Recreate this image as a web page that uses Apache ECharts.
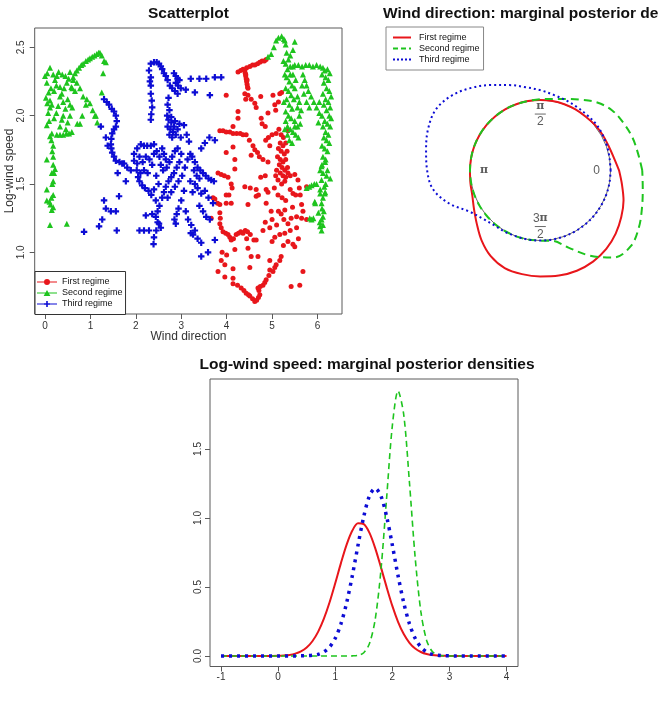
<!DOCTYPE html>
<html><head><meta charset="utf-8">
<script src="https://cdn.jsdelivr.net/npm/echarts@6/dist/echarts.min.js"></script>
<style>html,body{margin:0;padding:0;background:#fff}#c{width:659px;height:712px}</style>
</head><body><div id="c"></div>
<script>
// ---------------- DATA ----------------
const regimeNames = ['First regime', 'Second regime', 'Third regime'];

// Scatterplot: [wind direction, log-wind speed]
const redPts = [
[4.25,2.32],[4.31,2.33],[4.36,2.34],[4.44,2.35],[4.51,2.36],[4.57,2.37],[4.62,2.37],[4.68,2.38],[4.73,2.39],[4.78,2.40],[4.83,2.40],[4.87,2.41],
[4.40,2.33],[4.41,2.31],[4.42,2.29],[4.43,2.27],[4.44,2.25],[4.45,2.23],[4.46,2.21],[4.47,2.20],[4.42,2.30],[4.45,2.26],
[3.99,2.15],[4.40,2.16],[4.47,2.15],[4.42,2.12],[4.54,2.12],[4.75,2.14],[5.02,2.15],[5.17,2.16],[5.21,2.17],[4.62,2.09],[4.65,2.06],[5.06,2.08],[4.91,2.02],[4.76,1.98],[4.78,1.94],[4.25,2.03],[4.25,1.98],[4.14,1.92],[5.08,2.04],[5.14,2.10],
[3.85,1.89],[3.92,1.89],[3.99,1.88],[4.07,1.88],[4.14,1.87],[4.22,1.87],[4.30,1.87],[4.36,1.86],[4.43,1.86],
[3.99,1.73],[4.14,1.77],[4.18,1.68],[4.18,1.61],[4.50,1.82],[4.58,1.78],[4.62,1.75],[4.68,1.73],[4.54,1.71],[4.80,1.68],[4.91,1.66],[4.72,1.70],[4.86,1.82],[4.92,1.84],[5.00,1.86],[5.09,1.87],[4.95,1.78],[5.35,1.89],[4.85,1.92],
[5.15,1.90],[5.20,1.86],[5.25,1.84],[5.18,1.80],[5.24,1.78],[5.30,1.80],[5.14,1.76],[5.20,1.74],[5.27,1.72],[5.33,1.74],[5.12,1.70],[5.18,1.68],[5.24,1.66],[5.30,1.68],[5.16,1.64],[5.22,1.62],[5.28,1.60],[5.34,1.62],[5.10,1.60],[5.18,1.58],[5.24,1.56],[5.30,1.55],[5.13,1.53],[5.28,1.52],[5.35,1.58],[5.21,1.50],[5.40,1.56],[5.08,1.56],
[3.81,1.58],[3.88,1.57],[3.95,1.56],[4.03,1.55],[4.10,1.50],[4.12,1.47],[3.70,1.40],[3.74,1.39],[3.80,1.36],[3.85,1.35],[3.66,1.25],[3.99,1.42],[4.05,1.42],[3.99,1.36],[4.10,1.36],[4.40,1.48],[4.52,1.47],[4.65,1.46],[4.47,1.35],[4.65,1.41],[4.70,1.42],[4.75,1.55],[4.85,1.56],[4.87,1.46],[4.91,1.44],
[3.85,1.29],[3.86,1.25],[3.85,1.21],[3.88,1.18],[3.92,1.15],[3.98,1.14],[4.03,1.13],[4.07,1.11],[4.10,1.09],[4.15,1.10],[4.21,1.13],[4.26,1.14],[4.31,1.15],[4.36,1.14],[4.41,1.16],[4.46,1.15],[4.52,1.13],[4.44,1.10],[4.18,1.02],[4.47,1.03],[4.60,1.09],[4.65,1.09],[4.69,0.97],[4.95,0.94],[4.95,0.87],[4.80,1.16],[4.85,1.22],
[3.88,0.94],[3.96,0.91],[4.14,0.88],[3.81,0.86],[3.96,0.82],[4.14,0.81],[4.14,0.77],[4.24,0.76],[4.32,0.74],[4.38,0.72],[4.43,0.70],[4.48,0.69],[4.51,0.68],[4.57,0.66],[4.62,0.64],[4.66,0.65],[4.70,0.67],[4.73,0.69],[4.71,0.72],[4.69,0.74],[4.74,0.75],[4.80,0.76],[4.84,0.78],[4.87,0.80],[4.93,0.83],[5.02,0.86],[5.06,0.89],[5.09,0.91],[5.17,0.94],[5.20,0.97],[4.51,0.89],[4.54,0.97],[4.00,0.98],[3.90,1.00],
[4.87,1.36],[4.98,1.30],[5.00,1.24],[4.95,1.18],[5.06,1.11],[5.00,1.08],[5.17,1.13],[5.28,1.14],[5.35,1.08],[5.50,1.04],[5.46,1.06],[5.54,1.18],[5.35,1.21],[5.42,1.25],[5.54,1.26],[5.65,1.25],[5.76,1.24],[5.68,1.30],[5.65,1.35],[5.76,1.48],[5.46,1.43],[5.28,1.31],[5.20,1.28],[5.26,1.24],[5.30,1.38],[5.10,1.20],[5.14,1.30],[5.13,1.42],[5.05,1.47],[5.50,1.57],[5.57,1.53],[5.60,1.47],[5.52,1.42],[5.40,1.46],[5.22,1.40],[5.45,1.33],[5.40,1.16],[5.25,1.05],[5.42,0.75],[5.61,0.76],[5.68,0.86],[5.58,1.10],[5.62,1.42]
];
const greenPts = [
[0.11,1.20],[0.48,1.21],[0.15,1.31],[0.18,1.33],[0.12,1.35],[0.04,1.38],[0.10,1.37],[0.14,1.40],[0.18,1.42],[0.04,1.46],[0.16,1.50],[0.18,1.52],[0.20,1.58],[0.22,1.61],[0.18,1.64],[0.15,1.58],[0.04,1.68],[0.18,1.70],[0.16,1.74],[0.18,1.78],[0.14,1.82],[0.11,1.85],[0.15,1.87],[0.26,1.86],[0.33,1.86],[0.40,1.86],[0.47,1.87],[0.53,1.87],[0.59,1.88],
[0.04,1.93],[0.09,1.96],[0.07,2.02],[0.11,2.06],[0.05,2.09],[0.11,2.11],[0.15,2.08],[0.02,2.13],[0.08,2.17],[0.13,2.20],[0.04,2.24],[0.00,2.29],[0.05,2.31],[0.11,2.35],[0.18,2.30],[0.22,2.26],[0.25,2.22],[0.20,2.18],[0.29,2.07],[0.33,2.14],[0.33,2.21],[0.30,2.32],[0.26,2.29],[0.38,2.30],[0.45,2.29],[0.48,2.24],[0.42,2.20],[0.37,2.16],[0.40,2.10],[0.45,2.05],[0.37,1.97],[0.33,1.92],[0.40,2.00],[0.50,2.12],[0.55,2.32],[0.52,2.27],[0.58,2.21],[0.62,2.26],[0.66,2.18],[0.70,2.24],[0.77,2.20],[0.84,2.14],[0.92,2.12],[0.99,2.09],[1.05,2.04],[1.10,2.00],[0.77,1.94],[0.71,1.94],[0.82,2.00],[0.60,2.06],[0.55,2.00],[0.50,1.95],[0.20,1.98],[0.25,2.02],[0.60,2.20],[0.55,2.08],[0.46,1.90],[0.90,2.08],
[0.62,2.28],[0.66,2.31],[0.70,2.33],[0.75,2.35],[0.80,2.37],[0.84,2.38],[0.90,2.40],[0.95,2.41],[0.99,2.42],[1.04,2.43],[1.09,2.44],[1.14,2.45],[1.18,2.46],[1.21,2.46],[1.25,2.44],
[1.30,2.40],[1.34,2.39],[1.28,2.31],[1.25,2.17],[1.12,2.00],[1.15,1.95],
[4.91,2.43],[4.98,2.45],[5.04,2.50],[5.09,2.55],[5.14,2.57],[5.21,2.58],[5.26,2.56],[5.28,2.55],[5.30,2.52],[5.50,2.54],[5.46,2.48],[5.40,2.44],
[5.32,2.46],[5.36,2.41],[5.30,2.38],[5.34,2.34],[5.40,2.30],[5.32,2.28],[5.38,2.25],[5.44,2.22],[5.30,2.20],[5.36,2.18],[5.42,2.15],[5.48,2.12],[5.32,2.12],[5.38,2.08],[5.44,2.05],[5.30,2.03],[5.36,2.00],[5.42,1.98],[5.50,1.96],[5.30,1.96],[5.34,1.92],[5.40,1.90],[5.46,1.88],[5.52,1.86],[5.34,1.86],[5.38,1.82],[5.44,1.80],[5.56,1.92],[5.60,2.00],[5.56,2.06],[5.50,2.20],[5.46,2.30],[5.52,2.26],[5.56,2.14],[5.60,2.10],[5.64,2.04],[5.58,1.84],[5.28,2.30],[5.26,2.10],[5.28,1.90],[5.25,2.40],[5.46,2.36],[5.40,2.36],[5.50,1.92],[5.62,1.94],
[5.50,2.37],[5.58,2.37],[5.66,2.36],[5.74,2.37],[5.82,2.37],[5.90,2.36],[5.98,2.37],[6.06,2.36],[6.12,2.35],[6.16,2.33],[6.22,2.34],[6.27,2.31],
[5.68,2.30],[5.72,2.26],[5.76,2.22],[5.80,2.18],[5.86,2.14],[5.92,2.10],[5.98,2.06],[6.04,2.02],[5.70,2.16],[5.76,2.10],[5.82,2.06],[5.66,2.22],
[6.10,2.30],[6.18,2.28],[6.24,2.26],[6.14,2.24],[6.20,2.20],[6.26,2.18],[6.12,2.16],[6.18,2.12],[6.24,2.10],[6.28,2.06],[6.14,2.08],[6.20,2.04],[6.26,2.00],[6.10,2.00],[6.16,1.96],[6.22,1.94],[6.28,1.92],[6.12,1.92],[6.18,1.88],[6.24,1.86],[6.14,1.84],[6.20,1.82],[6.26,1.80],[6.10,1.78],[6.16,1.76],[6.22,1.74],[6.12,1.70],[6.18,1.68],[6.10,1.64],[6.17,1.66],[6.09,1.63],[6.06,1.60],[6.12,1.58],[6.20,1.56],[6.28,1.54],[6.22,1.60],[6.30,2.14],[6.30,1.98],[6.02,1.95],[6.04,2.10],
[5.87,1.49],[5.93,1.50],[5.98,1.50],[6.09,1.53],[6.06,1.46],[6.06,1.43],[6.12,1.40],[6.16,1.43],[6.17,1.44],[5.94,1.37],[5.95,1.36],[6.09,1.36],[6.10,1.32],[6.02,1.29],[6.12,1.26],[6.09,1.24],[6.05,1.22],[5.91,1.25],[5.83,1.25],[5.87,1.24],[6.06,1.19],[6.09,1.16],[6.12,1.20],[6.14,1.30],[6.15,1.48],[6.18,1.50],[5.76,1.47],[5.82,1.48]
];
const bluePts = [
[2.29,2.33],[2.33,2.38],[2.40,2.39],[2.46,2.39],[2.51,2.38],[2.55,2.36],[2.58,2.34],[2.62,2.31],[2.66,2.29],[2.70,2.26],[2.33,2.28],[2.33,2.22],[2.33,2.16],[2.35,2.11],[2.36,2.06],[2.34,2.01],[2.33,1.97],[2.31,2.25],
[2.84,2.31],[2.88,2.29],[2.92,2.27],[2.96,2.26],[2.88,2.24],[2.93,2.22],[2.99,2.20],[2.86,2.18],[2.92,2.16],[2.80,2.20],[2.75,2.22],[3.10,2.19],[3.21,2.27],
[3.40,2.27],[3.55,2.27],[3.74,2.28],[3.88,2.28],[3.30,2.17],[3.63,2.15],
[2.72,2.13],[2.70,2.08],[2.74,2.04],[2.69,2.00],[2.72,1.97],[2.78,1.95],[2.70,1.92],[2.76,1.90],[2.82,1.88],[2.74,1.86],[2.80,1.84],[2.88,1.86],[2.92,1.90],[2.96,1.94],[2.86,1.96],[2.99,1.84],[3.06,1.93],[3.12,1.86],[3.17,1.81],[2.84,1.92],[2.78,1.99],
[1.30,2.12],[1.36,2.10],[1.41,2.08],[1.47,2.05],[1.52,2.03],[1.56,2.00],[1.58,1.96],[1.56,1.92],[1.52,1.90],[1.48,1.87],[1.46,1.83],[1.45,1.79],[1.46,1.76],[1.48,1.73],[1.52,1.70],[1.56,1.67],[1.64,1.66],[1.70,1.65],[1.74,1.65],[1.81,1.62],[1.89,1.60],[1.23,1.92],[1.34,1.84],[1.38,1.78],[1.60,1.58],
[1.96,1.72],[2.03,1.76],[2.11,1.79],[2.18,1.78],[2.25,1.78],[2.33,1.78],[2.40,1.79],[1.96,1.67],[2.03,1.65],[2.08,1.70],[2.15,1.66],[2.22,1.70],[2.30,1.68],[2.36,1.64],[2.02,1.60],[2.10,1.58],[2.18,1.60],[2.26,1.58],[2.08,1.52],[2.14,1.49],[2.20,1.47],[2.05,1.55],[2.40,1.72],
[2.46,1.74],[2.52,1.70],[2.58,1.76],[2.62,1.72],[2.66,1.68],[2.55,1.64],[2.60,1.60],[2.68,1.62],[2.74,1.66],[2.80,1.70],[2.86,1.74],[2.92,1.76],[3.00,1.72],[2.96,1.66],[2.90,1.62],[2.84,1.58],[2.78,1.55],[2.72,1.52],[2.66,1.48],[2.62,1.44],[2.58,1.40],[2.50,1.50],[2.45,1.56],[2.40,1.46],[2.34,1.42],[2.28,1.45],[2.44,1.38],[2.52,1.34],[2.48,1.30],[2.70,1.40],[2.78,1.44],[2.86,1.48],[2.94,1.52],[3.02,1.56],[3.08,1.62],[3.14,1.68],[3.20,1.72],[3.06,1.45],[3.00,1.38],[2.94,1.32],[2.90,1.28],[2.85,1.24],
[3.24,1.70],[3.30,1.66],[3.36,1.62],[3.42,1.60],[3.48,1.58],[3.54,1.56],[3.60,1.54],[3.66,1.53],[3.72,1.52],[3.28,1.60],[3.34,1.56],[3.40,1.54],[3.30,1.50],[3.36,1.47],[3.44,1.43],[3.52,1.45],[3.60,1.40],[3.70,1.36],[3.25,1.44],[3.20,1.52],[3.44,1.76],[3.52,1.80],[3.62,1.84],[3.74,1.82],
[3.55,1.26],[3.63,1.24],[3.48,1.30],[3.40,1.34],[3.26,1.13],[3.30,1.16],[3.22,1.20],[3.21,1.14],[3.36,1.10],[3.44,1.07],[3.59,1.00],[3.44,0.97],[3.74,1.09],[3.15,1.24],[3.10,1.30],
[1.30,1.38],[1.34,1.32],[1.45,1.30],[1.56,1.30],[1.63,1.41],[1.26,1.24],[1.19,1.19],[0.86,1.15],[1.58,1.16],[1.78,1.52],
[2.08,1.16],[2.18,1.16],[2.29,1.16],[2.40,1.11],[2.39,1.06],[2.55,1.18],[2.51,1.21],[2.44,1.26],[2.36,1.28],[2.22,1.27],[2.45,1.16],[2.48,1.22],[2.88,1.21]
];
const scatterXTicks = [0, 1, 2, 3, 4, 5, 6];
const scatterYTicks = [1.0, 1.5, 2.0, 2.5];

// Circular plot: angle (degrees), density added to unit circle
const circTheta = [0,10,20,30,40,50,60,70,80,90,100,110,120,130,140,150,160,170,180,190,200,210,220,230,240,250,260,270,280,290,300,310,320,330,340,350,360];
const circRed   = [0.12,0.06,0.03,0.02,0.01,0,0,0,0,0,0,0,0,0,0,0,0,0,0,0.01,0.03,0.09,0.18,0.30,0.41,0.48,0.50,0.51,0.52,0.52,0.50,0.46,0.40,0.33,0.26,0.18,0.12];
const circGreen = [0.45,0.41,0.39,0.36,0.33,0.26,0.16,0.08,0.03,0.01,0,0,0,0,0,0,0,0,0,0,0,0,0,0,0,0,0,0,0.02,0.17,0.40,0.62,0.68,0.62,0.54,0.48,0.45];
const circBlue  = [0,0,0.01,0.02,0.03,0.03,0.04,0.06,0.09,0.14,0.20,0.29,0.40,0.53,0.65,0.72,0.70,0.65,0.61,0.55,0.38,0.17,0.07,0.02,0.01,0,0,0,0,0,0,0,0,0,0,0,0];
const circLabelAngles = [0, 90, 180, 270];
const circLabelTexts = ['0', 'π/2', 'π', '3π/2'];

// Log-wind speed densities
const speedX = [-1.0,-0.9,-0.8,-0.7,-0.6,-0.5,-0.4,-0.3,-0.2,-0.1,0.0,0.1,0.2,0.3,0.4,0.5,0.6,0.7,0.8,0.9,1.0,1.1,1.2,1.3,1.4,1.5,1.6,1.7,1.8,1.9,2.0,2.1,2.2,2.3,2.4,2.5,2.6,2.7,2.8,2.9,3.0,3.1,3.2,3.3,3.4,3.5,3.6,3.7,3.8,3.9,4.0];
const speedRed   = [0,0,0,0,0,0,0,0,0,0,0.001,0.004,0.008,0.017,0.033,0.061,0.107,0.175,0.269,0.388,0.527,0.673,0.807,0.909,0.961,0.955,0.892,0.782,0.644,0.499,0.363,0.248,0.159,0.096,0.054,0.029,0.014,0.007,0.003,0.001,0,0,0,0,0,0,0,0,0,0,0];
const speedGreen = [0,0,0,0,0,0,0,0,0,0,0,0,0,0,0,0,0,0,0,0,0,0,0,0.001,0.005,0.024,0.090,0.265,0.620,1.144,1.667,1.921,1.748,1.257,0.714,0.321,0.114,0.032,0.007,0.001,0,0,0,0,0,0,0,0,0,0,0];
const speedBlue  = [0,0,0,0,0,0,0,0,0,0,0,0,0,0,0.001,0.002,0.005,0.012,0.030,0.064,0.128,0.233,0.386,0.583,0.804,1.011,1.160,1.215,1.160,1.011,0.804,0.583,0.386,0.233,0.128,0.064,0.030,0.012,0.005,0.002,0.001,0,0,0,0,0,0,0,0,0,0];
const speedXTicks = [-1, 0, 1, 2, 3, 4];
const speedYTicks = [0.0, 0.5, 1.0, 1.5];

// ---------------- CHART ----------------
const FONT = "'Liberation Sans', Arial, Helvetica, sans-serif";
const COLORS = ['#e8161b', '#1ec41e', '#0c0cd4'];
const BOX = '#5a5a5a';
const chart = echarts.init(document.getElementById('c'), null, {renderer: 'canvas', width: 659, height: 712});

const PLUS = 'path://M2,0H4V2H6V4H4V6H2V4H0V2H2Z';
const scatterIcons = [
  'path://M0,2.4H20V3.6H0Z M13,3A3,3 0 1,1 7,3A3,3 0 1,1 13,3Z',
  'path://M0,2.4H20V3.6H0Z M10,0L13.4,6H6.6Z',
  'path://M0,2.4H20V3.6H0Z M9.2,0H10.8V6H9.2Z M7,2.2H13V3.8H7Z'
];
const lineIcons = [
  'path://M0,0H18V2H0Z',
  'path://M0,0H5V2H0Z M8,0H13V2H8Z M16,0H18V2H16Z',
  'path://M0,0H2V2H0Z M4,0H6V2H4Z M8,0H10V2H8Z M12,0H14V2H12Z M16,0H18V2H16Z'
];

function valAxis(grid, min, max, ticks, isY, fmt, margin) {
  return {
    gridIndex: grid, type: 'value', min: min, max: max,
    axisLine: {show: false, onZero: false}, splitLine: {show: false},
    axisTick: {show: true, inside: false, length: 5, customValues: ticks, lineStyle: {color: BOX, width: 1}},
    axisLabel: {show: true, customValues: ticks, fontFamily: FONT, fontSize: 10, color: '#333',
      margin: margin, rotate: isY ? 90 : 0, formatter: fmt}
  };
}
const fmt1 = v => Number(v).toFixed(1);
const fmt0 = v => String(v);

function fracRich(t) {
  const wrap = s => s.replace(/(\d+)/g, '{n|$1}').replace(/π/g, '{s|π}');
  if (t.indexOf('/') >= 0) {
    const p = t.split('/');
    return wrap(p[0]) + '\n{bar|}\n' + wrap(p[1]);
  }
  return wrap(t);
}

const scatterSymbols = ['circle', 'triangle', PLUS];
const scatterSizes = [5, 6, 6.5];
const scatterData = [redPts, greenPts, bluePts];
const circData = [circRed, circGreen, circBlue];
const speedData = [speedRed, speedGreen, speedBlue];
const circLine = [
  {width: 2, type: 'solid'},
  {width: 2, type: [8, 5]},
  {width: 2, type: [2, 3]}
];
const speedLine = [
  {width: 2, type: 'solid'},
  {width: 1.6, type: [6, 4]},
  {width: 3.5, type: [3, 5]}
];

const series = [];
regimeNames.forEach((n, i) => {
  series.push({
    name: n, type: 'scatter', xAxisIndex: 0, yAxisIndex: 0,
    symbol: scatterSymbols[i], symbolSize: scatterSizes[i],
    itemStyle: {color: COLORS[i], opacity: 1},
    data: scatterData[i], silent: true, z: 2
  });
});
// base unit circle
series.push({
  name: 'base', type: 'line', coordinateSystem: 'polar', polarIndex: 0,
  symbol: 'none', smooth: false, lineStyle: {color: '#444', width: 0.8},
  data: circTheta.map(t => [1, t]), silent: true, z: 1
});
regimeNames.forEach((n, i) => {
  series.push({
    name: n, type: 'line', coordinateSystem: 'polar', polarIndex: 0,
    symbol: 'none', smooth: 0.35, lineStyle: Object.assign({color: COLORS[i], cap: 'butt'}, circLine[i]),
    data: circTheta.map((t, k) => [1 + circData[i][k], t]), silent: true, z: 2 + i
  });
});
series.push({
  name: 'labels', type: 'scatter', coordinateSystem: 'polar', polarIndex: 0,
  symbol: 'circle', symbolSize: 1, itemStyle: {color: 'rgba(0,0,0,0)'}, silent: true, z: 10,
  label: {
    show: true, position: 'inside', formatter: p => fracRich(p.name),
    rich: {
      n: {fontFamily: FONT, fontSize: 12, color: '#333', lineHeight: 13},
      s: {fontFamily: "'DejaVu Serif', 'Liberation Serif', serif", fontWeight: 'bold', fontSize: 11, color: '#333', lineHeight: 13},
      bar: {width: 11, height: 1, lineHeight: 3, backgroundColor: '#444'}
    }
  },
  data: circLabelAngles.map((a, k) => ({name: circLabelTexts[k], value: [0.8, a]}))
});
regimeNames.forEach((n, i) => {
  series.push({
    name: n, type: 'line', xAxisIndex: 1, yAxisIndex: 1,
    symbol: 'none', smooth: 0.3, lineStyle: Object.assign({color: COLORS[i], cap: 'butt'}, speedLine[i]),
    data: speedX.map((x, k) => [x, speedData[i][k]]), silent: true, z: 2 + i
  });
});

const option = {
  animation: false,
  backgroundColor: '#fff',
  grid: [
    {left: 34.7, top: 28, width: 307.3, height: 286, show: true, borderColor: BOX, borderWidth: 1, backgroundColor: 'rgba(0,0,0,0)'},
    {left: 210, top: 379, width: 308, height: 287.5, show: true, borderColor: BOX, borderWidth: 1, backgroundColor: 'rgba(0,0,0,0)'}
  ],
  xAxis: [
    valAxis(0, -0.227, 6.54, scatterXTicks, false, fmt0, 7),
    valAxis(1, -1.193, 4.201, speedXTicks, false, fmt0, 6)
  ],
  yAxis: [
    valAxis(0, 0.549, 2.641, scatterYTicks, true, fmt1, 8),
    valAxis(1, -0.076, 2.007, speedYTicks, true, fmt1, 7)
  ],
  polar: {center: [540.3, 170.3], radius: 140.6},
  angleAxis: {polarIndex: 0, type: 'value', min: 0, max: 360, startAngle: 0, clockwise: false, show: false,
    axisLine: {show: false}, splitLine: {show: false}, axisLabel: {show: false}, axisTick: {show: false}},
  radiusAxis: {polarIndex: 0, type: 'value', min: 0, max: 2, show: false,
    axisLine: {show: false}, splitLine: {show: false}, axisLabel: {show: false}, axisTick: {show: false}},
  legend: [
    {
      orient: 'vertical', left: 35, top: 271.5, padding: [6, 3, 6, 2], itemGap: 2,
      itemWidth: 20, itemHeight: 6, selectedMode: false,
      borderColor: '#333', borderWidth: 1, backgroundColor: '#fff',
      textStyle: {fontFamily: FONT, fontSize: 9, color: '#111', lineHeight: 9},
      data: regimeNames.map((n, i) => ({name: n, icon: scatterIcons[i]}))
    },
    {
      orient: 'vertical', left: 386, top: 27, padding: [6, 4, 6, 7], itemGap: 2,
      itemWidth: 18, itemHeight: 2, selectedMode: false,
      borderColor: '#888', borderWidth: 1, backgroundColor: '#fff',
      textStyle: {fontFamily: FONT, fontSize: 9, color: '#111', lineHeight: 9, padding: [0, 0, 0, 3]},
      data: regimeNames.map((n, i) => ({name: n, icon: lineIcons[i]}))
    }
  ],
  graphic: [
    {type: 'text', x: 188.5, y: 13.5, silent: true, style: {text: 'Scatterplot', font: 'bold 15.5px ' + FONT, fill: '#111', textAlign: 'center', textVerticalAlign: 'middle'}},
    {type: 'text', x: 383, y: 13.5, silent: true, style: {text: 'Wind direction: marginal posterior densities', font: 'bold 15.5px ' + FONT, fill: '#111', textAlign: 'left', textVerticalAlign: 'middle'}},
    {type: 'text', x: 367, y: 365, silent: true, style: {text: 'Log-wind speed: marginal posterior densities', font: 'bold 15.5px ' + FONT, fill: '#111', textAlign: 'center', textVerticalAlign: 'middle'}},
    {type: 'text', x: 188.5, y: 337, silent: true, style: {text: 'Wind direction', font: '12px ' + FONT, fill: '#333', textAlign: 'center', textVerticalAlign: 'middle'}},
    {type: 'text', x: 10, y: 171, rotation: Math.PI / 2, silent: true, style: {text: 'Log-wind speed', font: '12px ' + FONT, fill: '#333', textAlign: 'center', textVerticalAlign: 'middle'}}
  ],
  series: series
};
chart.setOption(option);
</script>
</body></html>
